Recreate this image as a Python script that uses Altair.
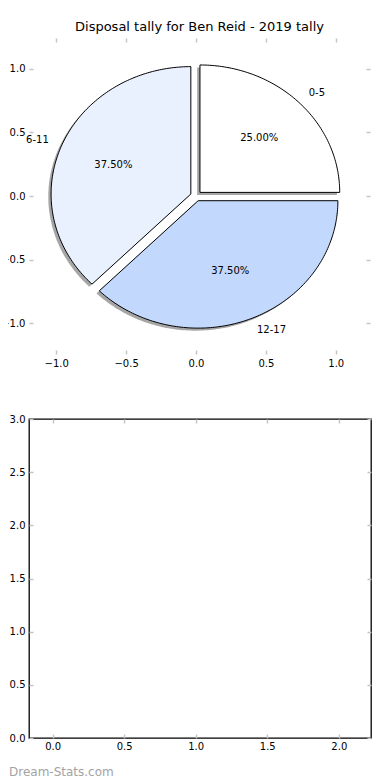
import math
import altair as alt
import pandas as pd

# ---- data ----
labels = ["0-5", "6-11", "12-17"]
counts = [2, 3, 3]
colors = ["#ffffff", "#eaf1fe", "#c3d8fd"]
explode = [0.04, 0.04, 0.04]

title_text = "Disposal tally for Ben Reid - 2019 tally"
pie_ticks = [-1.0, -0.5, 0.0, 0.5, 1.0]
bar_xticks = [0.0, 0.5, 1.0, 1.5, 2.0]
bar_yticks = [0.0, 0.5, 1.0, 1.5, 2.0, 2.5, 3.0]
watermark = "Dream-Stats.com"

FONT = "DejaVu Sans"

# ---- pie geometry built from the arrays (matplotlib-style wedges) ----
total = sum(counts)
poly_rows, lab_rows = [], []
start = 0.0
for lab, c, ex in zip(labels, counts, explode):
    frac = c / total
    t1, t2 = start, start + 360.0 * frac
    mid = math.radians((t1 + t2) / 2)
    cx, cy = ex * math.cos(mid), ex * math.sin(mid)
    n = max(2, int(round(t2 - t1)))
    pts = [(cx, cy)]
    for k in range(n + 1):
        a = math.radians(t1 + (t2 - t1) * k / n)
        pts.append((cx + math.cos(a), cy + math.sin(a)))
    pts.append((cx, cy))
    for i, (x, y) in enumerate(pts):
        poly_rows.append({"label": lab, "i": i, "x": x, "y": y,
                          "sx": x - 0.02, "sy": y - 0.02})
    lx = cx + 1.1 * math.cos(mid)
    ly = cy + 1.1 * math.sin(mid)
    lab_rows.append({"label": lab, "pct": f"{frac * 100:.2f}%",
                     "lx": lx, "ly": ly,
                     "px": cx + 0.6 * math.cos(mid), "py": cy + 0.6 * math.sin(mid),
                     "side": "left" if lx > 0 else "right"})
    start = t2

poly = pd.DataFrame(poly_rows)
labs = pd.DataFrame(lab_rows)


def lab_axis(orient, values, pad=4):
    return alt.Axis(orient=orient, values=values, format=".1f", ticks=False,
                    domain=False, grid=False, labelFont=FONT, labelFontSize=10,
                    labelColor="black", labelPadding=pad, title=None)


def tick_axis(orient, values):
    return alt.Axis(orient=orient, values=values, labels=False, domain=False,
                    grid=False, ticks=True, tickSize=4, tickColor="#c4c4c4",
                    tickWidth=1.5, offset=-4, title=None)


# ---- top panel: pie ----
px_scale = alt.Scale(domain=[-1.195, 1.245], nice=False, zero=False)
py_scale = alt.Scale(domain=[-1.24, 1.24], nice=False, zero=False)

base_poly = alt.Chart(poly)

shadow = base_poly.mark_line(fill="#4d4d4d", fillOpacity=0.5, strokeWidth=0).encode(
    x=alt.X("sx:Q", scale=px_scale, axis=lab_axis("bottom", pie_ticks)),
    y=alt.Y("sy:Q", scale=py_scale, axis=lab_axis("left", pie_ticks)),
    detail="label:N",
    order="i:Q",
)

wedges = base_poly.mark_line(stroke="black", strokeWidth=1).encode(
    x=alt.X("x:Q", scale=px_scale, axis=tick_axis("bottom", pie_ticks)),
    y=alt.Y("y:Q", scale=py_scale, axis=tick_axis("left", pie_ticks)),
    fill=alt.Fill("label:N", scale=alt.Scale(domain=labels, range=colors), legend=None),
    detail="label:N",
    order="i:Q",
)

base_lab = alt.Chart(labs)
txt_left = base_lab.transform_filter("datum.side == 'left'").mark_text(
    align="left", baseline="middle", font=FONT, fontSize=10, color="black"
).encode(
    x=alt.X("lx:Q", scale=px_scale, axis=tick_axis("top", pie_ticks)),
    y=alt.Y("ly:Q", scale=py_scale, axis=tick_axis("right", pie_ticks)),
    text="label:N",
)
txt_right = base_lab.transform_filter("datum.side == 'right'").mark_text(
    align="right", baseline="middle", font=FONT, fontSize=10, color="black"
).encode(
    x=alt.X("lx:Q", scale=px_scale, axis=None),
    y=alt.Y("ly:Q", scale=py_scale, axis=None),
    text="label:N",
)
txt_pct = base_lab.mark_text(
    align="center", baseline="middle", font=FONT, fontSize=10, color="black"
).encode(
    x=alt.X("px:Q", scale=px_scale, axis=None),
    y=alt.Y("py:Q", scale=py_scale, axis=None),
    text="pct:N",
)

pie = alt.layer(shadow, wedges, txt_left, txt_right, txt_pct).resolve_axis(
    x="independent", y="independent"
).properties(
    width=341, height=316,
    title=alt.TitleParams(title_text, font=FONT, fontSize=13, fontWeight="normal",
                          color="black", offset=3),
    view=alt.ViewBackground(stroke="transparent"),
)

# ---- bottom panel: empty axes ----
bx_scale = alt.Scale(domain=[-0.165, 2.225], nice=False, zero=False)
by_scale = alt.Scale(domain=[0.0, 3.0], nice=False, zero=False)
carrier = alt.Chart(pd.DataFrame({"x": bar_xticks[:1], "y": bar_yticks[:1]}))

b1 = carrier.mark_point(opacity=0).encode(
    x=alt.X("x:Q", scale=bx_scale, axis=lab_axis("bottom", bar_xticks, 3)),
    y=alt.Y("y:Q", scale=by_scale, axis=lab_axis("left", bar_yticks)),
)
b2 = carrier.mark_point(opacity=0).encode(
    x=alt.X("x:Q", scale=bx_scale, axis=tick_axis("bottom", bar_xticks)),
    y=alt.Y("y:Q", scale=by_scale, axis=tick_axis("left", bar_yticks)),
)
b3 = carrier.mark_point(opacity=0).encode(
    x=alt.X("x:Q", scale=bx_scale, axis=tick_axis("top", bar_xticks)),
    y=alt.Y("y:Q", scale=by_scale, axis=tick_axis("right", bar_yticks)),
)

empty = alt.layer(b1, b2, b3).resolve_axis(
    x="independent", y="independent"
).properties(
    width=342, height=319,
    title=alt.TitleParams(watermark, orient="bottom", anchor="start", frame="group",
                          dx=-20, offset=16, font=FONT, fontSize=12,
                          fontWeight="normal", color="#a3a3a3"),
    view=alt.ViewBackground(stroke="black", strokeWidth=1.3),
)

chart = alt.vconcat(pie, empty, spacing=65, bounds="flush").properties(
    padding={"left": -8, "top": 12, "right": 0, "bottom": 0},
    background="white",
)

chart.save("out.html", embed_options={"renderer": "svg", "actions": False})
